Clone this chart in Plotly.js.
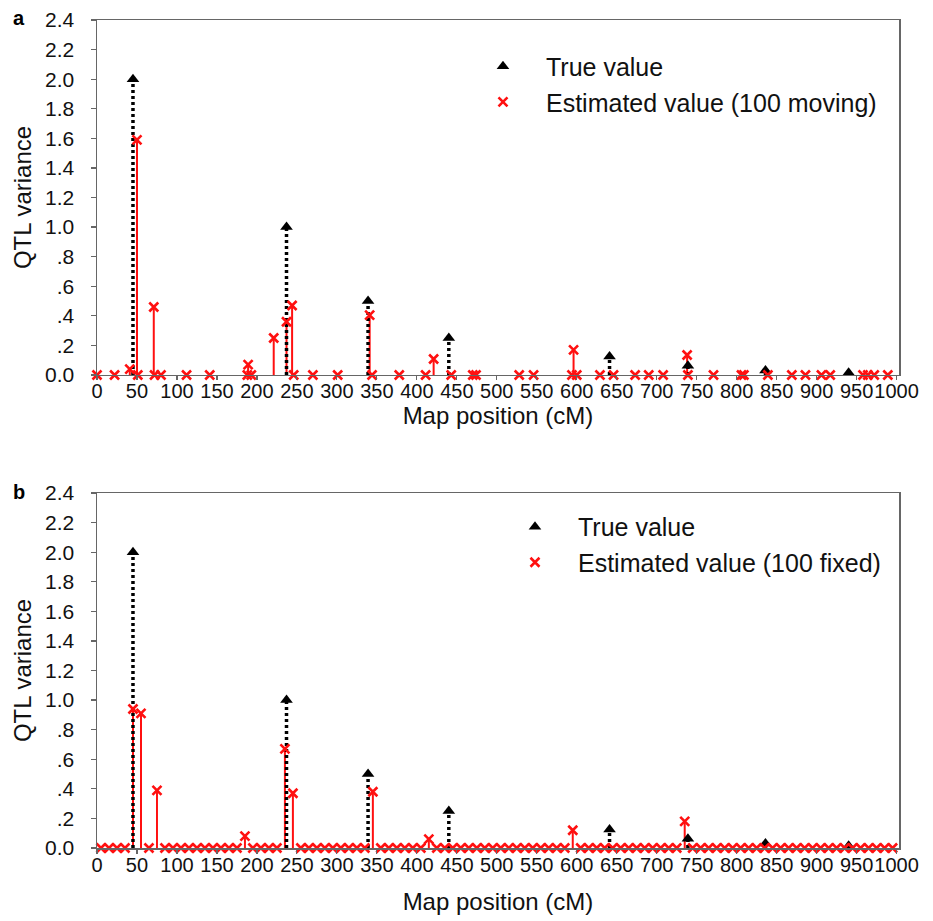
<!DOCTYPE html>
<html>
<head>
<meta charset="utf-8">
<script src="https://cdn.plot.ly/plotly-3.0.1.min.js"></script>
<style>html,body{margin:0;padding:0;background:#fff;}#chart{width:933px;height:921px;}</style>
</head>
<body>
<div id="chart"></div>
<script>
// ---- Data ----
const xTickVals = [0,50,100,150,200,250,300,350,400,450,500,550,600,650,700,750,800,850,900,950,1000];
const xTickText = ["0","50","100","150","200","250","300","350","400","450","500","550","600","650","700","750","800","850","900","950","1000"];
const yTickVals = [0,0.2,0.4,0.6,0.8,1.0,1.2,1.4,1.6,1.8,2.0,2.2,2.4];
const yTickText = ["0.0",".2",".4",".6",".8","1.0","1.2","1.4","1.6","1.8","2.0","2.2","2.4"];

// True QTL values (same in both panels)
const trueX = [45, 237, 339, 440, 641, 739, 836, 940];
const trueY = [2.0, 1.0, 0.5, 0.25, 0.125, 0.063, 0.031, 0.016];

// Panel a: estimated values, 100 moving
const estAX = [0, 22, 41, 50, 51, 71, 72, 80, 112, 141, 188, 189, 193, 221, 237, 244, 246, 270, 301, 341, 344, 378, 411, 421, 443, 470, 474, 528, 546, 594, 596, 600, 629, 646, 673, 690, 708, 738, 739, 771, 806, 809, 839, 869, 886, 906, 917, 958, 964, 972, 989];
const estAY = [0, 0, 0.04, 1.59, 0, 0.46, 0, 0, 0, 0, 0, 0.07, 0, 0.25, 0.36, 0.47, 0, 0, 0, 0.405, 0, 0, 0, 0.108, 0, 0, 0, 0, 0, 0, 0.17, 0, 0, 0, 0, 0, 0, 0.135, 0, 0, 0, 0, 0, 0, 0, 0, 0, 0, 0, 0, 0];

// Panel b: estimated values, 100 fixed
const estBX = [5,15,25,35,45,55,65,75,85,95,105,115,125,135,145,155,165,175,185,195,
  205,215,225,235,245,255,265,275,285,295,305,315,325,335,345,355,365,375,385,395,
  405,415,425,435,445,455,465,475,485,495,505,515,525,535,545,555,565,575,585,595,
  605,615,625,635,645,655,665,675,685,695,705,715,725,735,745,755,765,775,785,795,
  805,815,825,835,845,855,865,875,885,895,905,915,925,935,945,955,965,975,985,995];
const estBY = [0,0,0,0,0.94,0.91,0,0.39,0,0,0,0,0,0,0,0,0,0,0.08,0,
  0,0,0,0.67,0.37,0,0,0,0,0,0,0,0,0,0.38,0,0,0,0,0,
  0,0.06,0,0,0,0,0,0,0,0,0,0,0,0,0,0,0,0,0,0.12,
  0,0,0,0,0,0,0,0,0,0,0,0,0,0.18,0,0,0,0,0,0,
  0,0,0,0,0,0,0,0,0,0,0,0,0,0,0,0,0,0,0,0];

// ---- Helpers ----
function stems(xs, ys) {
  const sx = [], sy = [];
  xs.forEach((x, i) => { if (ys[i] > 0) { sx.push(x, x, null); sy.push(0, ys[i], null); } });
  return {sx, sy};
}
const FONT = 'Liberation Sans, Arial, Helvetica, sans-serif';
const RED = '#ff1010';

function panelTraces(estX, estY, xa, ya, estName, legendId) {
  const rs = stems(estX, estY);
  const ts = stems(trueX, trueY);
  return [
    {x: rs.sx, y: rs.sy, xaxis: xa, yaxis: ya, mode: 'lines', type: 'scatter',
     line: {color: RED, width: 2}, showlegend: false, hoverinfo: 'skip'},
    {x: ts.sx, y: ts.sy, xaxis: xa, yaxis: ya, mode: 'lines', type: 'scatter',
     line: {color: '#000', width: 3.5, dash: '3px,3px'}, showlegend: false, hoverinfo: 'skip'},
    {x: trueX, y: trueY, xaxis: xa, yaxis: ya, mode: 'markers', type: 'scatter',
     name: 'True value', legend: legendId, cliponaxis: false,
     marker: {symbol: 'triangle-up', size: 11, color: '#000'}},
    {x: estX, y: estY, xaxis: xa, yaxis: ya, mode: 'markers', type: 'scatter',
     name: estName, legend: legendId, cliponaxis: false,
     marker: {symbol: 'x-thin', size: 9, color: RED, line: {color: RED, width: 2.6}}}
  ];
}

const data = [
  ...panelTraces(estAX, estAY, 'x', 'y', 'Estimated value (100 moving)', 'legend'),
  ...panelTraces(estBX, estBY, 'x2', 'y2', 'Estimated value (100 fixed)', 'legend2')
];

function xAxis(anchor, standoff) {
  return {
    anchor: anchor, domain: [0, 1], range: [0, 1003],
    tickmode: 'array', tickvals: xTickVals, ticktext: xTickText, tickangle: 0,
    ticks: 'outside', ticklen: 4, tickwidth: 1.2, tickcolor: '#666',
    showline: true, linecolor: '#666', linewidth: 1.5, mirror: true,
    showgrid: false, zeroline: false, automargin: false,
    ticklabelstandoff: -6,
    tickfont: {family: FONT, size: 20, color: '#111'},
    title: {text: 'Map position (cM)', font: {family: FONT, size: 24, color: '#111'}, standoff: standoff}
  };
}
function yAxis(anchor, domain) {
  return {
    anchor: anchor, domain: domain, range: [0, 2.4],
    tickmode: 'array', tickvals: yTickVals, ticktext: yTickText,
    ticks: 'outside', ticklen: 5, tickwidth: 1.2, tickcolor: '#666',
    showline: true, linecolor: '#666', linewidth: 1.5, mirror: true,
    showgrid: false, zeroline: false, automargin: false,
    ticklabelstandoff: 12,
    tickfont: {family: FONT, size: 21, color: '#111'},
    title: {text: 'QTL variance', font: {family: FONT, size: 24, color: '#111'}, standoff: 6}
  };
}

const legendCommon = {
  xanchor: 'left', yanchor: 'top', bgcolor: 'rgba(0,0,0,0)', borderwidth: 0,
  font: {family: FONT, size: 25, color: '#111'}, tracegroupgap: 0, itemwidth: 76
};

const layout = {
  width: 933, height: 921,
  margin: {l: 97, r: 34, t: 20, b: 73},
  paper_bgcolor: '#fff', plot_bgcolor: '#fff',
  xaxis: xAxis('y', 0),
  yaxis: yAxis('x', [0.57126, 1]),
  xaxis2: xAxis('y2', 18),
  yaxis2: yAxis('x2', [0, 0.42874]),
  legend: Object.assign({x: 0.4526, y: 0.9715}, legendCommon),
  legend2: Object.assign({x: 0.4925, y: 0.4155}, legendCommon),
  annotations: [
    {text: '<b>a</b>', xref: 'paper', yref: 'paper', x: -0.107, y: 1.003, xanchor: 'left', yanchor: 'middle', showarrow: false, font: {family: FONT, size: 20, color: '#000'}},
    {text: '<b>b</b>', xref: 'paper', yref: 'paper', x: -0.107, y: 0.43, xanchor: 'left', yanchor: 'middle', showarrow: false, font: {family: FONT, size: 20, color: '#000'}}
  ],
  showlegend: true
};

Plotly.newPlot('chart', data, layout, {displayModeBar: false, staticPlot: true});
</script>
</body>
</html>
